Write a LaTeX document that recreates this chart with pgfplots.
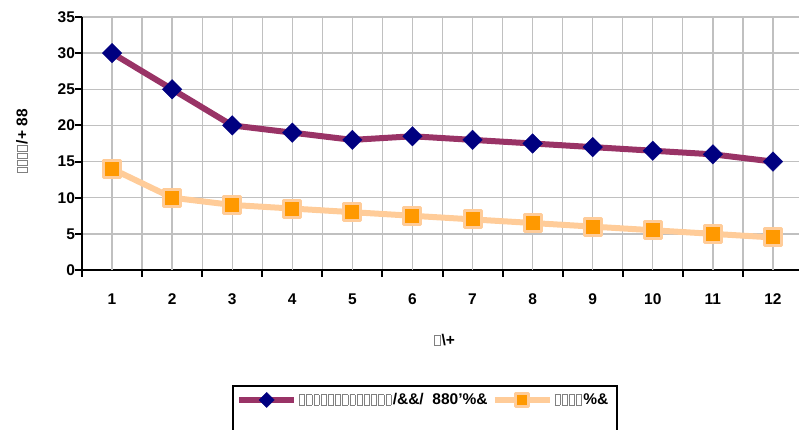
\documentclass[border=0pt]{standalone}
\usepackage{pgfplots}
\pgfplotsset{compat=1.18}
\usepackage{fontspec}
\setmainfont{Liberation Sans}
\definecolor{plum}{HTML}{993366}
\definecolor{navy}{HTML}{000080}
\definecolor{peach}{HTML}{FFCC99}
\definecolor{orng}{HTML}{FF9900}
\definecolor{gridc}{HTML}{C0C0C0}
\newcommand\bx{{\color{gray}\setlength{\fboxsep}{0pt}\setlength{\fboxrule}{0.6pt}\fbox{\rule{0pt}{10pt}\hspace{4.6pt}}}\kern1.4pt}
\newcommand\lf{\bfseries\fontsize{15.5}{15.5}\selectfont}
\begin{document}
\begin{tikzpicture}
\path[use as bounding box] (-82pt,-160pt) rectangle (717pt,270pt);
\begin{axis}[
  scale only axis, width=721pt, height=253pt,
  xmin=0.5, xmax=12.5, ymin=0, ymax=35,
  axis lines=left, axis line style={-, black, line width=2pt},
  tick align=outside, major tick length=6.5pt,
  tick style={black, line width=2pt},
  xtick={0.5,1.5,...,12.5}, xticklabels={},
  extra x ticks={1,2,...,12},
  extra x tick labels={1,2,3,4,5,6,7,8,9,10,11,12},
  extra x tick style={major tick length=0pt, grid=major, xticklabel style={yshift=-20pt}},
  ytick={0,5,...,35},
  /pgf/number format/assume math mode=true,
  grid=major, grid style={gridc, line width=1.3pt},
  every tick label/.append style={font=\lf},
  yticklabel style={xshift=3pt},
  legend columns=2,
  legend style={at={(axis description cs:0.2136,-0.5138)}, anchor=west, draw=none, fill=none, inner sep=0pt, font=\lf, nodes={inner sep=2pt}, /tikz/every even column/.append style={column sep=2pt}},
  legend image code/.code={\draw[#1, mark repeat=2, mark phase=2, every mark/.append style={scale=0.78}] plot coordinates {(0pt,0pt) (27.5pt,0pt) (55pt,0pt)};},
  clip=false,
]
\addplot[plum, line width=6pt, line join=round, mark=square*, mark size=7pt, mark options={rotate=45, fill=navy, draw=navy, line width=0.1pt}] coordinates {
(1,30) (2,25) (3,20) (4,19) (5,18) (6,18.5) (7,18) (8,17.5) (9,17) (10,16.5) (11,16) (12,15)};
\addlegendentry{\bx\bx\bx\bx\bx\bx\bx\bx\bx\bx\bx\bx\bx/\&\&/\ \ 880'\%\&}
\addplot[peach, line width=6pt, line join=round, mark=square*, mark size=8.5pt, mark options={fill=orng, draw=peach, line width=3pt}] coordinates {
(1,14) (2,10) (3,9) (4,8.5) (5,8) (6,7.5) (7,7) (8,6.5) (9,6) (10,5.5) (11,5) (12,4.5)};
\addlegendentry{\bx\bx\bx\bx\%\&}
\draw[black, line width=1.5pt] (axis description cs:0.2094,-0.4585) rectangle (axis description cs:0.7420,-0.672);
\node[rotate=90, font=\lf] at (axis description cs:-0.0832,0.51) {\bx\bx\bx\bx/+ 88};
\node[font=\lf] at (axis description cs:0.503,-0.2767) {\bx\textbackslash+};
\end{axis}
\end{tikzpicture}
\end{document}
